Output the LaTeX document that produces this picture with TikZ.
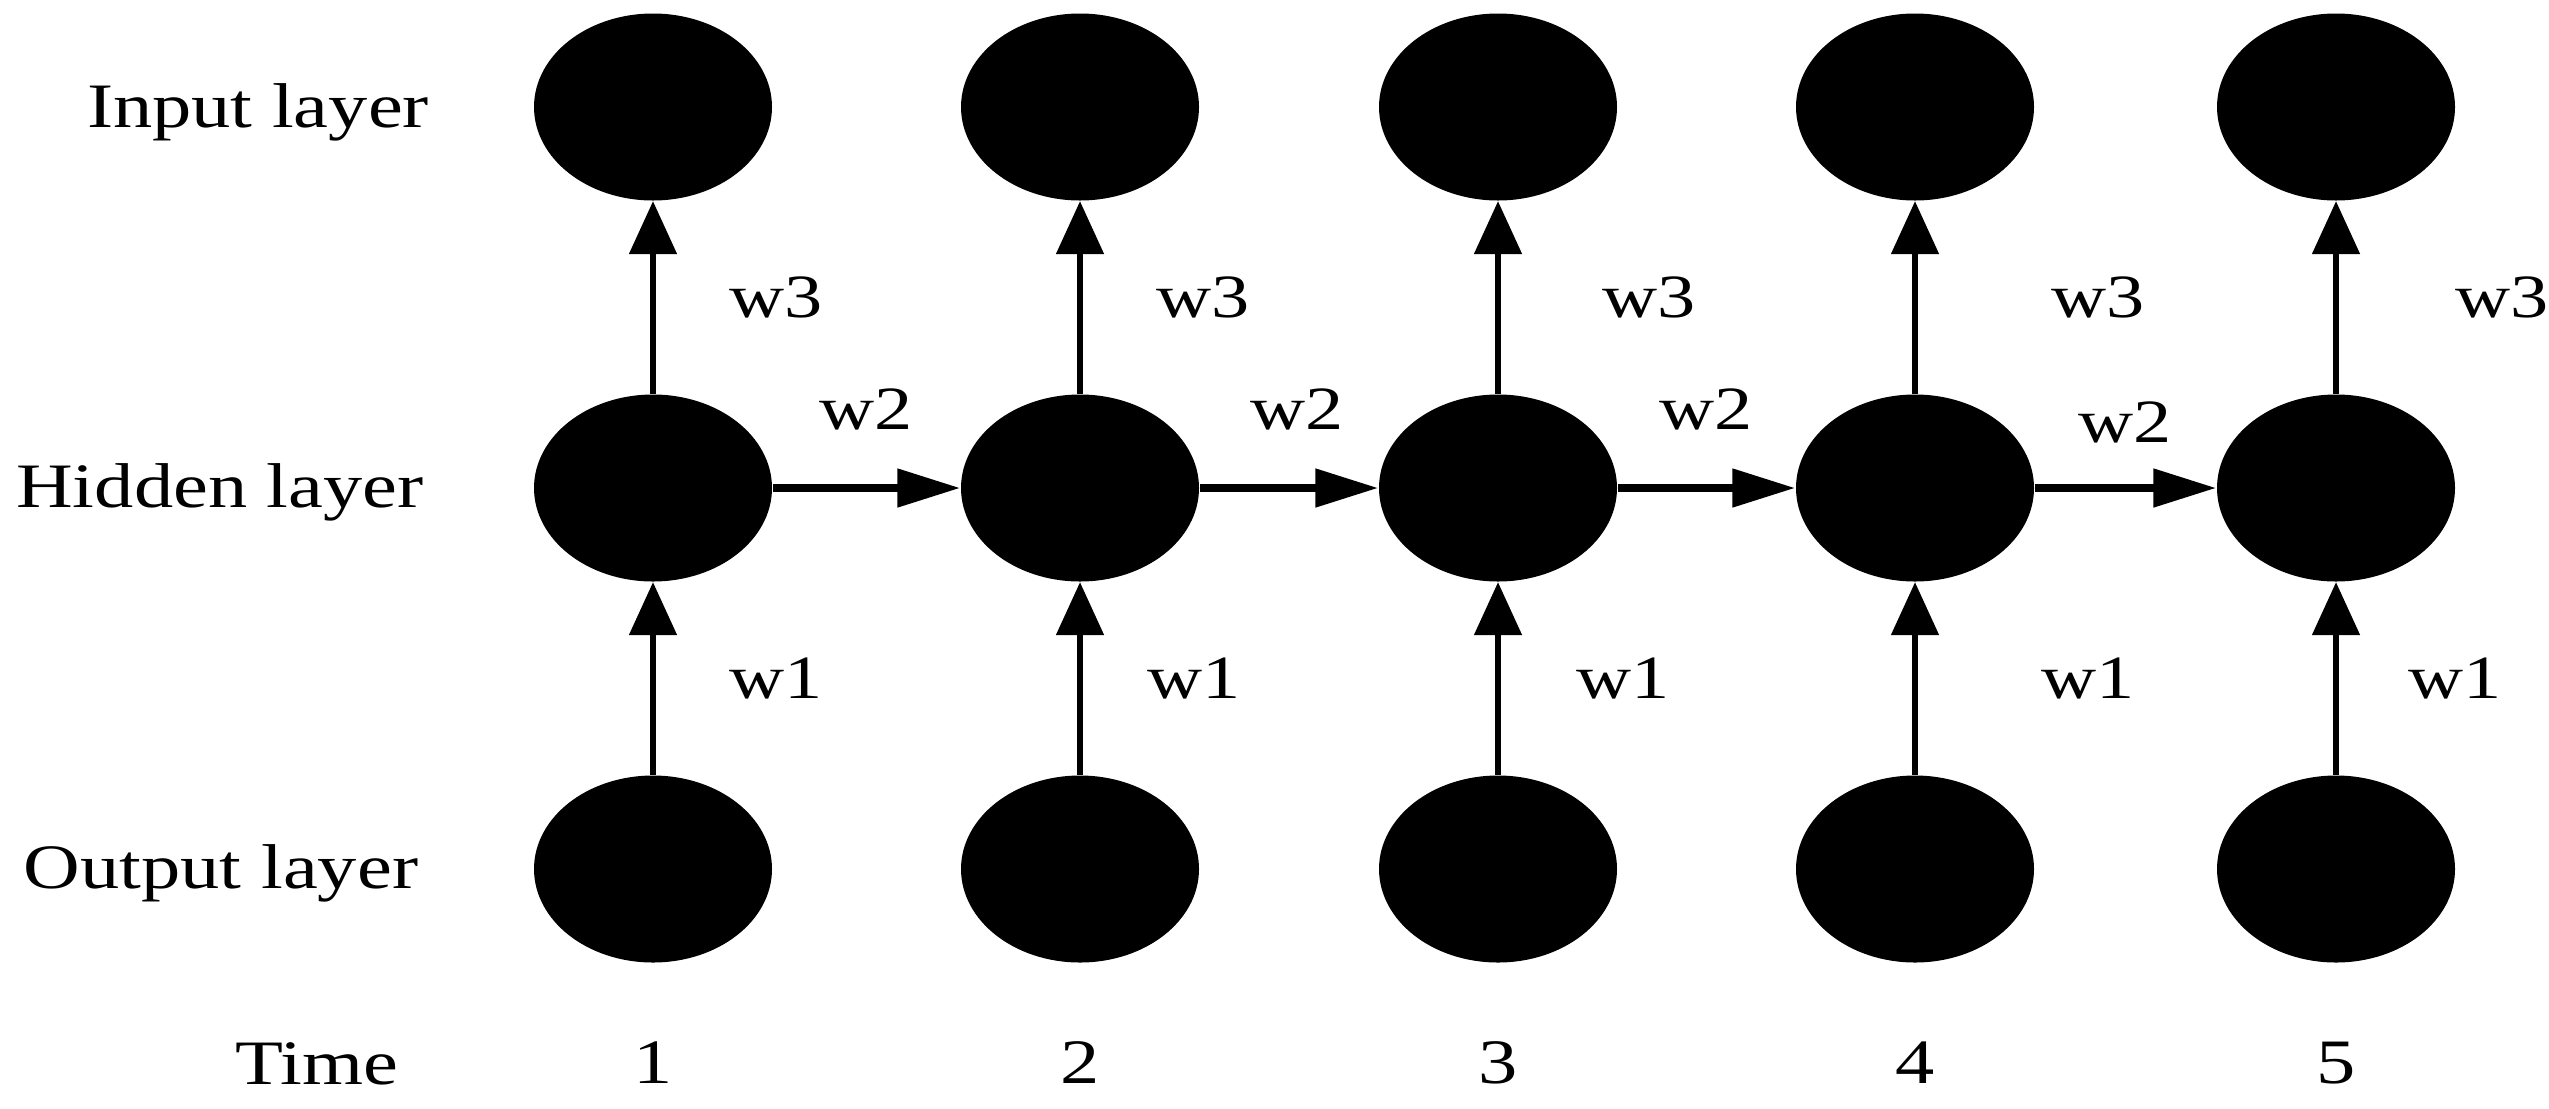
\documentclass[tikz,border=0pt]{standalone}
\usepackage{fontspec}
\setmainfont{Liberation Serif}[FakeStretch=1.24]
\usetikzlibrary{arrows.meta}
\usetikzlibrary{positioning,shapes.geometric}

\begin{document}
\begin{tikzpicture}[node distance = 3.81cm and 4.21cm, on grid]
\tikzset{
neuron/.style = {ellipse, fill=black, minimum width=2.38cm, minimum height=1.87cm, inner sep=0pt},
layername/.style = {anchor=base, inner sep=0pt, font=\fontsize{18}{20}\selectfont},
wlabel/.style = {inner sep=0pt, font=\fontsize{17.5}{20}\selectfont},
timestep/.style = {inner sep=0pt, font=\fontsize{18}{20}\selectfont},
feed/.style = {draw, line width=1.5pt, -{Triangle[length=0.53cm, width=0.47cm]}},
recur/.style = {draw, line width=2.3pt, -{Triangle[length=0.63cm, width=0.37cm]}}
}
\useasboundingbox (0,0) rectangle (25.49,-11.08);

     \node [layername] (inputname) at (2.58,-1.27) {Input layer};
     \node [layername] (hiddenname) at (2.20,-5.07) {Hidden layer};
     \node [layername] (outputname) at (2.21,-8.88) {Output layer};
     \node [layername] (timename) at (3.17,-10.84) {Time};

     \node [neuron] (i1) at (6.53,-1.07) {};
     \node [neuron, right=4.27cm of i1] (i2) {};
     \node [neuron, right=4.18cm of i2] (i3) {};
     \node [neuron, right=4.17cm of i3] (i4) {};
     \node [neuron, right=4.21cm of i4] (i5) {};

     \node [neuron, below=of i1] (h1) {};
     \node [neuron, below=of i2] (h2) {};
     \node [neuron, below=of i3] (h3) {};
     \node [neuron, below=of i4] (h4) {};
     \node [neuron, below=of i5] (h5) {};

     \node [neuron, below=of h1] (o1) {};
     \node [neuron, below=of h2] (o2) {};
     \node [neuron, below=of h3] (o3) {};
     \node [neuron, below=of h4] (o4) {};
     \node [neuron, below=of h5] (o5) {};

     \node [timestep, below=1.94cm of o1] (t1) {1};
     \node [timestep, below=1.94cm of o2] (t2) {2};
     \node [timestep, below=1.94cm of o3] (t3) {3};
     \node [timestep, below=1.94cm of o4] (t4) {4};
     \node [timestep, below=1.94cm of o5] (t5) {5};

     \path [feed] (o1) -- node [wlabel, anchor=west, xshift=0.74cm] {w1} (h1);
     \path [feed] (o2) -- node [wlabel, anchor=west, xshift=0.65cm] {w1} (h2);
     \path [feed] (o3) -- node [wlabel, anchor=west, xshift=0.76cm] {w1} (h3);
     \path [feed] (o4) -- node [wlabel, anchor=west, xshift=1.24cm] {w1} (h4);
     \path [feed] (o5) -- node [wlabel, anchor=west, xshift=0.70cm] {w1} (h5);

     \path [feed] (h1) -- node [wlabel, anchor=west, xshift=0.74cm] {w3} (i1);
     \path [feed] (h2) -- node [wlabel, anchor=west, xshift=0.74cm] {w3} (i2);
     \path [feed] (h3) -- node [wlabel, anchor=west, xshift=1.02cm] {w3} (i3);
     \path [feed] (h4) -- node [wlabel, anchor=west, xshift=1.34cm] {w3} (i4);
     \path [feed] (h5) -- node [wlabel, anchor=west, xshift=1.17cm] {w3} (i5);

     \path [recur] (h1) -- node [wlabel, above=0.54cm] {w2} (h2);
     \path [recur] (h2) -- node [wlabel, above=0.54cm, xshift=0.08cm] {w2} (h3);
     \path [recur] (h3) -- node [wlabel, above=0.54cm] {w2} (h4);
     \path [recur] (h4) -- node [wlabel, above=0.41cm] {w2} (h5);
\end{tikzpicture}
\end{document}
